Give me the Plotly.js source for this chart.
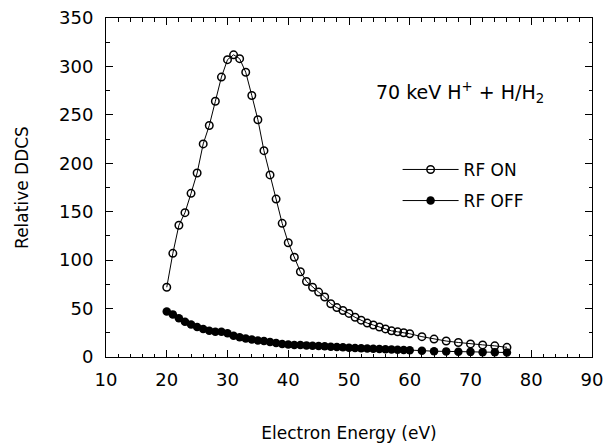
<!DOCTYPE html>
<html>
<head>
<meta charset="utf-8">
<script src="https://cdn.plot.ly/plotly-3.0.1.min.js"></script>
<style>html,body{margin:0;padding:0;background:#fff;}#chart{width:610px;height:444px;}</style>
</head>
<body>
<div id="chart"></div>
<script>
// RF ON (open circles)
var onX = [20,21,22,23,24,25,26,27,28,29,30,31,32,33,34,35,36,37,38,39,40,41,42,43,44,45,46,47,48,49,50,51,52,53,54,55,56,57,58,59,60,62,64,66,68,70,72,74,76];
var onY = [72,107,136,149,169,190,220,239,264,289,307,312,308,294,270,245,213,188,163,138,118,103,88,78,72,67,62,55,51,48,45,41,38,35,33,31,29,27,26,25,24,21,18.5,16.5,15,13.5,12.5,11.5,10];
// RF OFF (filled circles)
var offX = onX.slice();
var offY = [47,44,40,36.5,33.5,31,29,27,26,26,24.5,22,20.5,19,18,17,16.5,15.5,14.5,13.5,13,12.5,12.5,12,11.7,11.4,11,10.6,10.4,10,9.6,9.4,9,8.8,8.5,8.3,8,7.7,7.5,7.2,7,6.4,6,5.8,5.4,5.3,5,4.9,4.6];

var seriesNames = ["RF ON", "RF OFF"];
var xTitle = "Electron Energy (eV)";
var yTitle = "Relative DDCS";
var note = "70 keV H<sup>+</sup> + H/H<sub>2</sub>";

var FONT = "DejaVu Sans, sans-serif";

var traces = [
  {x: onX, y: onY, name: seriesNames[0], mode: "lines+markers", legendgroup: "a",
   line: {color: "#000", width: 1},
   marker: {symbol: "circle-open", size: 7.5, color: "#000", line: {width: 1.5, color: "#000"}}},
  {x: offX, y: offY, name: seriesNames[1], mode: "lines+markers", legendgroup: "b",
   line: {color: "#000", width: 1},
   marker: {symbol: "circle", size: 8.5, color: "#000"}}
];

var axisCommon = {
  showline: true, linecolor: "#000", linewidth: 1, mirror: "allticks",
  ticks: "inside", ticklen: 7, tickwidth: 1, tickcolor: "#000",
  showgrid: false, zeroline: false,
  tickfont: {family: FONT, size: 18, color: "#000"}
};

var layout = {
  width: 610, height: 444,
  margin: {l: 106, r: 18, t: 18, b: 87},
  paper_bgcolor: "#fff", plot_bgcolor: "#fff",
  font: {family: FONT, color: "#000"},
  xaxis: Object.assign({}, axisCommon, {
    range: [10, 90], dtick: 10, tick0: 10, ticklabelstandoff: 6,
    minor: {dtick: 2, ticks: "inside", ticklen: 3.5, tickcolor: "#000"},
    title: {text: xTitle, font: {family: FONT, size: 17, color: "#000"}, standoff: 38}
  }),
  yaxis: Object.assign({}, axisCommon, {
    range: [0, 350], dtick: 50, tick0: 0, ticklabelstandoff: 8,
    minor: {dtick: 25, ticks: "inside", ticklen: 3.5, tickcolor: "#000"},
    title: {text: yTitle, font: {family: FONT, size: 17, color: "#000"}, standoff: 26}
  }),
  showlegend: true,
  legend: {x: 0.6, y: 0.605, xanchor: "left", yanchor: "top",
           bgcolor: "rgba(0,0,0,0)", font: {family: FONT, size: 17, color: "#000"},
           traceorder: "grouped", tracegroupgap: 6, itemwidth: 56},
  annotations: [{
    text: note, xref: "paper", yref: "paper", x: 0.552, y: 0.78,
    xanchor: "left", yanchor: "middle", showarrow: false,
    font: {family: FONT, size: 19, color: "#000"}
  }]
};

Plotly.newPlot("chart", traces, layout, {displayModeBar: false, staticPlot: true});
</script>
</body>
</html>
